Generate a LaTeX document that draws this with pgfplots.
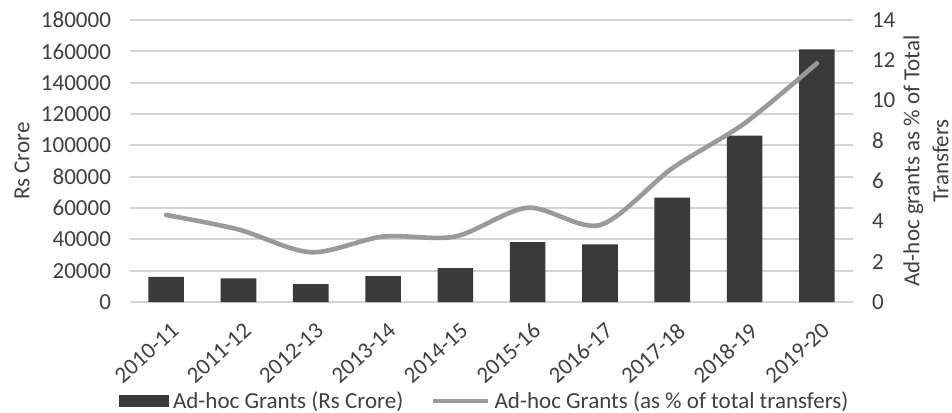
\documentclass[border=0pt]{standalone}
\usepackage{fontspec}
\setmainfont{Carlito}
\usepackage{pgfplots}
\pgfplotsset{compat=1.18}
\definecolor{barc}{HTML}{3A3A3A}
\definecolor{linec}{HTML}{9A9A9A}
\definecolor{gridc}{HTML}{D4D4D4}
\definecolor{txt}{HTML}{404040}
\newcommand{\cf}{\fontsize{11.5}{12}\selectfont}
\pgfplotstableread{
x crore pct
0 16000 4.32
1 15100 3.60
2 11400 2.47
3 16500 3.25
4 21600 3.25
5 38200 4.68
6 36800 3.82
7 66600 6.64
8 106200 8.87
9 161300 11.85
}\data
\begin{document}
\begin{tikzpicture}
\useasboundingbox (0,0) rectangle (476pt,206pt);
\begin{axis}[
  at={(65pt,55pt)}, anchor=south west,
  scale only axis, width=361.5pt, height=141pt,
  xmin=-0.5, xmax=9.5, ymin=0, ymax=180000,
  ytick={0,20000,...,180000},
  scaled y ticks=false,
  yticklabel style={/pgf/number format/fixed,/pgf/number format/1000 sep={},
    /pgf/number format/assume math mode=true, font=\cf, color=txt, xshift=-6pt},
  xtick={0,...,9},
  xticklabels={2010-11,2011-12,2012-13,2013-14,2014-15,2015-16,2016-17,2017-18,2018-19,2019-20},
  xticklabel style={inner sep=0pt, xshift=2pt, yshift=-9.5pt, rotate=42, anchor=north east, font=\cf, color=txt},
  major tick length=0pt,
  ymajorgrids, grid style={gridc, line width=0.9pt},
  axis y line*=left, y axis line style={draw=none},
  axis x line*=bottom, x axis line style={gridc, line width=0.9pt, -},
  ylabel={Rs Crore},
  ylabel style={at={([xshift=-54pt]axis description cs:0,0.5)}, anchor=center, font=\cf, color=txt},
  legend style={at={(axis description cs:0.492,-0.352)}, anchor=center, draw=none, fill=none,
    legend columns=2, font=\cf, text=txt, nodes={inner ysep=0.5pt},
    /tikz/every even column/.append style={column sep=12pt}},
  legend cell align=left,
]
\addplot[ybar, bar width=17.8pt, fill=barc, draw=none,
  legend image code/.code={\fill[barc] (0pt,-3pt) rectangle (25pt,3pt);}]
  table[x=x,y=crore]{\data};
\addlegendentry{Ad-hoc Grants (Rs Crore)}
\addlegendimage{linec, line width=2.2pt, legend image code/.code={\draw[linec, line width=2.2pt] (0pt,0pt) -- (27.5pt,0pt);}}
\addlegendentry{Ad-hoc Grants (as \% of total transfers)}
\end{axis}
\begin{axis}[
  at={(65pt,55pt)}, anchor=south west,
  scale only axis, width=361.5pt, height=141pt,
  xmin=-0.5, xmax=9.5, ymin=0, ymax=14,
  ytick={0,2,...,14},
  xtick=\empty,
  axis x line=none,
  axis y line*=right, y axis line style={draw=none},
  major tick length=0pt,
  yticklabel style={/pgf/number format/assume math mode=true, font=\cf, color=txt, anchor=west, xshift=6pt},
  ylabel={Ad-hoc grants as \% of Total\\Transfers},
  ylabel style={at={([xshift=36.5pt]axis description cs:1,0.5)}, anchor=center, align=center, font=\fontsize{11.5}{14.5}\selectfont, color=txt},
]
\addplot[linec, line width=2.3pt, smooth, line cap=round] table[x=x,y=pct]{\data};
\end{axis}
\end{tikzpicture}
\end{document}
